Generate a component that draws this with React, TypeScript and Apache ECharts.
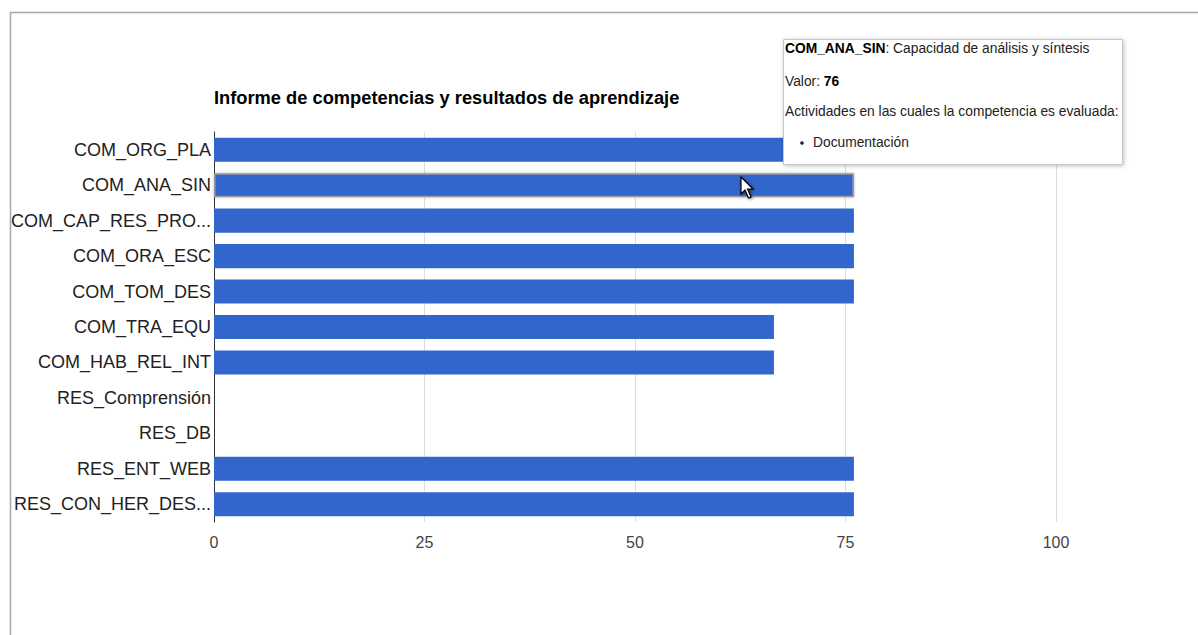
import React, { useEffect, useRef } from "react";
import * as echarts from "echarts";

const categories = [
  "COM_ORG_PLA",
  "COM_ANA_SIN",
  "COM_CAP_RES_PRO...",
  "COM_ORA_ESC",
  "COM_TOM_DES",
  "COM_TRA_EQU",
  "COM_HAB_REL_INT",
  "RES_Comprensión",
  "RES_DB",
  "RES_ENT_WEB",
  "RES_CON_HER_DES...",
];
const values = [76, 76, 76, 76, 76, 66.5, 66.5, 0, 0, 76, 76];
const xTicks = { min: 0, max: 100, interval: 25 };
const titleText = "Informe de competencias y resultados de aprendizaje";
const hoveredIndex = 1;
const tooltipCode = "COM_ANA_SIN";
const tooltipName = "Capacidad de análisis y síntesis";
const tooltipValue = 76;
const tooltipActivities = ["Documentación"];

const FONT = "Arial, 'Liberation Sans', sans-serif";
const TT = 13.8;

export default function App() {
  const ref = useRef<HTMLDivElement>(null);
  useEffect(() => {
    document.body.style.margin = "0";
    const chart = echarts.init(ref.current!, null, { renderer: "svg" });
    const data = values.map((v, i) =>
      i === hoveredIndex
        ? { value: v, itemStyle: { borderColor: "#9a9a9a", borderWidth: 1.5, shadowBlur: 3, shadowColor: "rgba(0,0,0,0.3)" } }
        : v
    );
    chart.setOption({
      animation: false,
      backgroundColor: "#ffffff",
      textStyle: { fontFamily: FONT },
      title: {
        text: titleText,
        left: 209,
        top: 83,
        textStyle: { fontSize: 18.3, fontWeight: "bold", color: "#000", fontFamily: FONT },
      },
      grid: { left: 214, right: 142, top: 132, bottom: 113, containLabel: false },
      xAxis: {
        type: "value",
        min: xTicks.min,
        max: xTicks.max,
        interval: xTicks.interval,
        axisLine: { show: false },
        axisTick: { show: false },
        splitLine: { show: true, lineStyle: { color: "#dcdcdc", width: 1 } },
        axisLabel: { color: "#444", fontSize: 16, margin: 12, fontFamily: FONT },
      },
      yAxis: {
        type: "category",
        data: categories,
        inverse: true,
        axisLine: { show: true, lineStyle: { color: "#333", width: 1 } },
        axisTick: { show: false },
        axisLabel: { color: "#222", fontSize: 18, margin: 3, fontFamily: FONT },
      },
      series: [
        {
          type: "bar",
          data,
          barCategoryGap: "32%",
          itemStyle: { color: "#3366cc" },
          z: 2,
        },
      ],
      graphic: [
        { type: "line", shape: { x1: 10, y1: 12.5, x2: 1198, y2: 12.5 }, style: { stroke: "#a8a8a8", lineWidth: 1.5 }, z: 100 },
        { type: "line", shape: { x1: 10.5, y1: 12, x2: 10.5, y2: 635 }, style: { stroke: "#a8a8a8", lineWidth: 1.5 }, z: 100 },
        {
          type: "group",
          z: 200,
          children: [
            {
              type: "rect",
              shape: { x: 783.5, y: 39.5, width: 339, height: 125 },
              style: { fill: "#fff", stroke: "#c8c8c8", lineWidth: 1, shadowBlur: 4, shadowOffsetX: 1, shadowOffsetY: 1, shadowColor: "rgba(0,0,0,0.25)" },
              z: 200,
            },
            {
              type: "text",
              x: 785,
              y: 48,
              z: 201,
              style: {
                text: "{b|" + tooltipCode + "}{n|: " + tooltipName + "}",
                verticalAlign: "middle",
                rich: {
                  b: { fontWeight: "bold", fontSize: TT, fill: "#000", fontFamily: FONT },
                  n: { fontSize: TT, fill: "#222", fontFamily: FONT },
                },
              },
            },
            {
              type: "text",
              x: 785,
              y: 81,
              z: 201,
              style: {
                text: "{n|Valor: }{b|" + tooltipValue + "}",
                verticalAlign: "middle",
                rich: {
                  b: { fontWeight: "bold", fontSize: TT, fill: "#000", fontFamily: FONT },
                  n: { fontSize: TT, fill: "#222", fontFamily: FONT },
                },
              },
            },
            {
              type: "text",
              x: 785,
              y: 111,
              z: 201,
              style: { text: "Actividades en las cuales la competencia es evaluada:", verticalAlign: "middle", fontSize: TT, fill: "#222", fontFamily: FONT },
            },
            ...tooltipActivities.flatMap((a, i) => [
              { type: "circle", shape: { cx: 802, cy: 143 + i * 20, r: 1.8 }, style: { fill: "#222" }, z: 201 },
              {
                type: "text",
                x: 813,
                y: 142 + i * 20,
                z: 201,
                style: { text: a, verticalAlign: "middle", fontSize: TT, fill: "#222", fontFamily: FONT },
              },
            ]),
          ],
        },
        {
          type: "polygon",
          z: 300,
          shape: {
            points: [
              [741, 177], [741, 194], [745, 190], [748.5, 198], [751, 197], [747.5, 189], [753, 189],
            ],
          },
          style: { fill: "#fff", stroke: "#000", lineWidth: 1.2, shadowBlur: 3, shadowColor: "rgba(0,0,0,0.5)", shadowOffsetX: 1, shadowOffsetY: 1 },
        },
      ],
    });
    return () => chart.dispose();
  }, []);
  return <div ref={ref} style={{ width: 1198, height: 635 }} />;
}
